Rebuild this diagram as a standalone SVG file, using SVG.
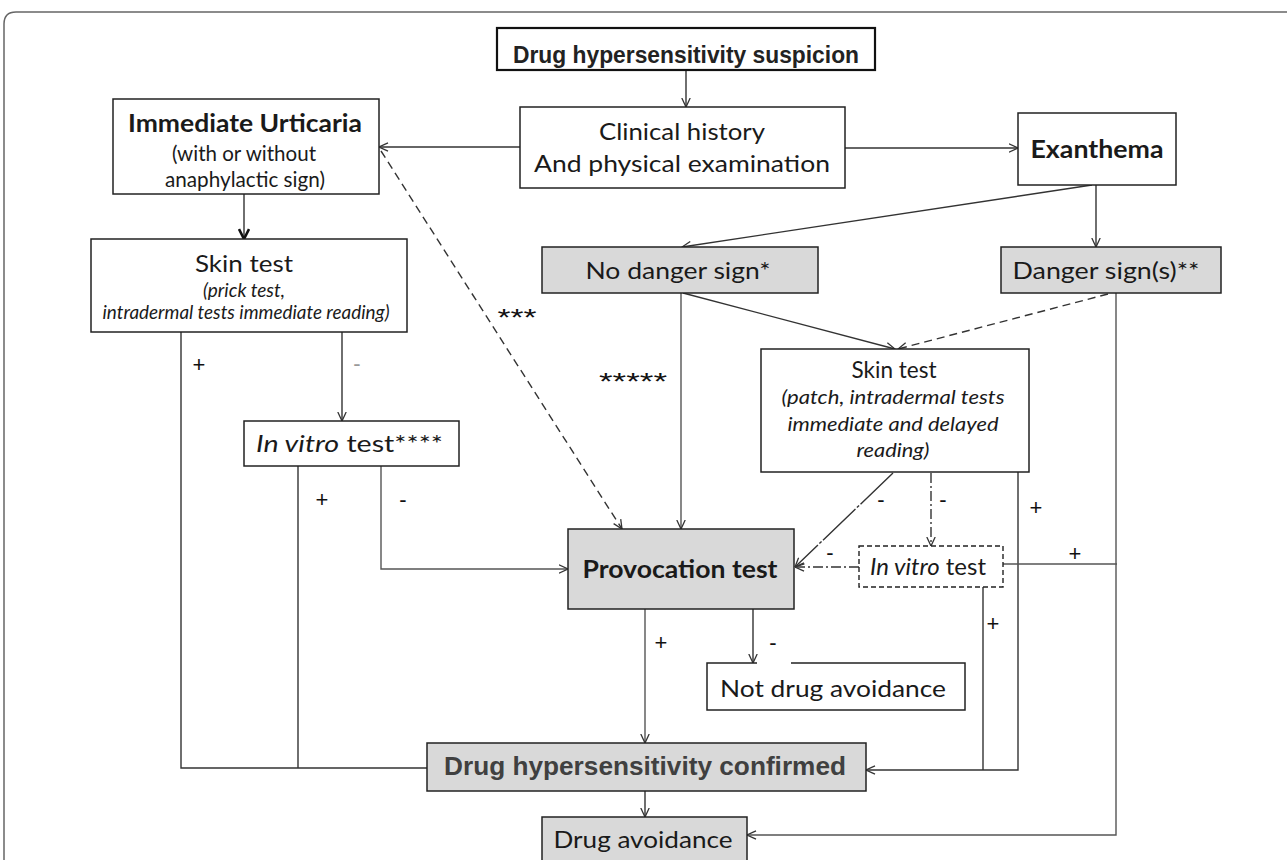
<svg xmlns="http://www.w3.org/2000/svg" width="1287" height="860" viewBox="0 0 1287 860">
<defs>
<marker id="arr" markerUnits="userSpaceOnUse" viewBox="0 0 10 10" refX="9.5" refY="5" markerWidth="10" markerHeight="10" orient="auto"><path d="M0.5,0.8 L9.5,5 L0.5,9.2" fill="none" stroke="#333" stroke-width="1.3"/></marker>
<marker id="arrb" markerUnits="userSpaceOnUse" viewBox="0 0 12 12" refX="11" refY="6" markerWidth="12" markerHeight="12" orient="auto"><path d="M1,1 L11,6 L1,11" fill="none" stroke="#111" stroke-width="2.6"/></marker>
</defs>
<style>
.box{fill:#fff;stroke:#222;stroke-width:1.5}
.gbox{fill:#d9d9d9;stroke:#222;stroke-width:1.5}
.t{font-family:Lato,'Open Sans',sans-serif;font-size:24px;fill:#1a1a1a;text-anchor:middle}
.b{font-weight:700}
.i{font-style:italic}
.s{font-size:21px}
.si{font-size:19px;font-style:italic}
.ar{font-family:'Liberation Sans',Arial,sans-serif;font-weight:700;font-size:26px}
.c{fill:none;stroke:#333;stroke-width:1.4}
.g{stroke:#555}
.dash{stroke-dasharray:8 5}
.dd{stroke-dasharray:10 3 2 3}
.ld{stroke-dasharray:45 2 3 2}
.lbl{font-family:'Liberation Sans',Arial,sans-serif;font-size:22px;fill:#111;text-anchor:middle}
.ast{font-family:'Liberation Sans',Arial,sans-serif;font-size:24px;fill:#111;text-anchor:middle}
</style>
<rect width="1287" height="860" fill="#fff"/>
<path d="M1287,12 H16 Q4,12 4,24 V860" fill="none" stroke="#666" stroke-width="1.5"/>

<g id="connectors">
<line class="c" x1="686" y1="70" x2="686" y2="107" marker-end="url(#arr)"/>
<line class="c" x1="520" y1="147" x2="379" y2="147" marker-end="url(#arr)"/>
<line class="c" x1="845" y1="148" x2="1018" y2="148" marker-end="url(#arr)"/>
<line class="c" x1="244" y1="194" x2="244" y2="239" stroke="#111" stroke-width="2.6" marker-end="url(#arrb)"/>
<line class="c dash" x1="381" y1="151" x2="622" y2="529" marker-end="url(#arr)"/>
<line class="c" x1="1096" y1="185" x2="1096" y2="247" marker-end="url(#arr)"/>
<line class="c" x1="1092" y1="185" x2="682" y2="247" marker-end="url(#arr)"/>
<line class="c" x1="683" y1="293" x2="895" y2="349" marker-end="url(#arr)"/>
<line class="c dash" x1="1108" y1="294" x2="898" y2="349" marker-end="url(#arr)"/>
<line class="c g" x1="681" y1="293" x2="681" y2="529" stroke-width="1.6" marker-end="url(#arr)"/>
<line class="c" x1="342" y1="332" x2="342" y2="421" marker-end="url(#arr)"/>
<polyline class="c" points="181,332 181,768 427,768"/>
<line class="c" x1="298" y1="466" x2="298" y2="768"/>
<polyline class="c g" points="381,466 381,569 568,569" marker-end="url(#arr)"/>
<line class="c ld" x1="893" y1="473" x2="795" y2="567" marker-end="url(#arr)"/>
<line class="c dd" x1="931" y1="473" x2="931" y2="546" marker-end="url(#arr)"/>
<line class="c dd" x1="859" y1="567" x2="795" y2="567" marker-end="url(#arr)"/>
<polyline class="c" points="1018,472 1018,770 866,770" marker-end="url(#arr)"/>
<line class="c" x1="983" y1="587" x2="983" y2="770"/>
<line class="c g" x1="1003" y1="564" x2="1117" y2="564"/>
<polyline class="c g" points="1116,293 1116,835 747,835" marker-end="url(#arr)"/>
<line class="c g" x1="645" y1="609" x2="645" y2="743" stroke-width="1.8" marker-end="url(#arr)"/>
<line class="c" x1="753" y1="609" x2="753" y2="663" marker-end="url(#arr)"/>
<line class="c" x1="645" y1="791" x2="645" y2="817" marker-end="url(#arr)"/>
</g>

<g id="labels">
<text class="ast" x="517" y="326" textLength="39" lengthAdjust="spacingAndGlyphs">***</text>
<text class="ast" x="633" y="390" textLength="68" lengthAdjust="spacingAndGlyphs">*****</text>
<text class="lbl" x="199" y="372">+</text>
<text class="lbl" x="357" y="371" style="fill:#999">-</text>
<text class="lbl" x="322" y="507">+</text>
<text class="lbl" x="403" y="507">-</text>
<text class="lbl" x="881" y="507">-</text>
<text class="lbl" x="943" y="507">-</text>
<text class="lbl" x="830" y="560">-</text>
<text class="lbl" x="1036" y="515">+</text>
<text class="lbl" x="1075" y="561">+</text>
<text class="lbl" x="993" y="631">+</text>
<text class="lbl" x="661" y="650">+</text>
<text class="lbl" x="773" y="650">-</text>
</g>

<g id="n-suspicion">
<rect x="497" y="28" width="378" height="42" fill="#fff" stroke="#111" stroke-width="2.2"/>
<text class="ar" x="686" y="63" text-anchor="middle" fill="#222" style="font-size:24px" textLength="346" lengthAdjust="spacingAndGlyphs">Drug hypersensitivity suspicion</text>
</g>

<g id="n-clinical">
<rect class="box" x="520" y="107" width="325" height="81"/>
<text class="t" x="682" y="140" textLength="166" lengthAdjust="spacingAndGlyphs">Clinical history</text>
<text class="t" x="682" y="172" textLength="296" lengthAdjust="spacingAndGlyphs">And physical examination</text>
</g>

<g id="n-urticaria">
<rect class="box" x="113" y="99" width="266" height="95"/>
<text class="t b" x="245" y="132" textLength="234" lengthAdjust="spacingAndGlyphs">Immediate Urticaria</text>
<text class="t s" x="244" y="161" textLength="144" lengthAdjust="spacingAndGlyphs">(with or without</text>
<text class="t s" x="245" y="187" textLength="160" lengthAdjust="spacingAndGlyphs">anaphylactic sign)</text>
</g>

<g id="n-exanthema">
<rect class="box" x="1018" y="113" width="158" height="72"/>
<text class="t b" x="1097" y="158" textLength="133" lengthAdjust="spacingAndGlyphs">Exanthema</text>
</g>

<g id="n-skin1">
<rect class="box" x="91" y="239" width="316" height="93"/>
<text class="t" x="244" y="272" textLength="98" lengthAdjust="spacingAndGlyphs">Skin test</text>
<text class="t si" x="244" y="297" textLength="82" lengthAdjust="spacingAndGlyphs">(prick test,</text>
<text class="t si" x="246" y="319" textLength="287" lengthAdjust="spacingAndGlyphs">intradermal tests immediate reading)</text>
</g>

<g id="n-nodanger">
<rect class="gbox" x="542" y="247" width="276" height="46"/>
<text class="t" x="678" y="279" textLength="185" lengthAdjust="spacingAndGlyphs">No danger sign*</text>
</g>

<g id="n-danger">
<rect class="gbox" x="1001" y="247" width="220" height="46"/>
<text class="t" x="1106" y="279" textLength="187" lengthAdjust="spacingAndGlyphs">Danger sign(s)**</text>
</g>

<g id="n-skin2">
<rect class="box" x="761" y="349" width="268" height="123"/>
<text class="t" x="894" y="378" textLength="85" lengthAdjust="spacingAndGlyphs">Skin test</text>
<text class="t si" x="893" y="404" style="font-size:20px" textLength="223" lengthAdjust="spacingAndGlyphs">(patch, intradermal tests</text>
<text class="t si" x="893" y="431" style="font-size:20px" textLength="211" lengthAdjust="spacingAndGlyphs">immediate and delayed</text>
<text class="t si" x="893" y="457" style="font-size:20px" textLength="73" lengthAdjust="spacingAndGlyphs">reading)</text>
</g>

<g id="n-invitro1">
<rect class="box" x="244" y="421" width="215" height="45"/>
<text class="t" x="256" y="452" style="text-anchor:start" textLength="187" lengthAdjust="spacingAndGlyphs"><tspan font-style="italic">In vitro</tspan> test****</text>
</g>

<g id="n-provocation">
<rect class="gbox" x="568" y="529" width="226" height="80"/>
<text class="t b" x="680" y="578" textLength="195" lengthAdjust="spacingAndGlyphs">Provocation test</text>
</g>

<g id="n-invitro2">
<rect x="859" y="546" width="144" height="41" fill="#fff" stroke="#222" stroke-width="1.4" stroke-dasharray="5 3"/>
<text class="t" x="870" y="575" style="text-anchor:start" textLength="116" lengthAdjust="spacingAndGlyphs"><tspan font-style="italic">In vitro</tspan> test</text>
</g>

<g id="n-notavoid">
<rect class="box" x="707" y="663" width="258" height="47"/>
<line x1="757" y1="663" x2="791" y2="663" stroke="#fff" stroke-width="2.5"/>
<text class="t" x="833" y="697" textLength="226" lengthAdjust="spacingAndGlyphs">Not drug avoidance</text>
</g>

<g id="n-confirmed">
<rect class="gbox" x="427" y="743" width="439" height="48"/>
<text class="ar" x="444" y="775" fill="#404040" textLength="402" lengthAdjust="spacingAndGlyphs">Drug hypersensitivity confirmed</text>
</g>

<g id="n-avoid">
<rect class="gbox" x="542" y="817" width="205" height="60"/>
<text class="t" x="643" y="848" textLength="179" lengthAdjust="spacingAndGlyphs">Drug avoidance</text>
</g>
</svg>
